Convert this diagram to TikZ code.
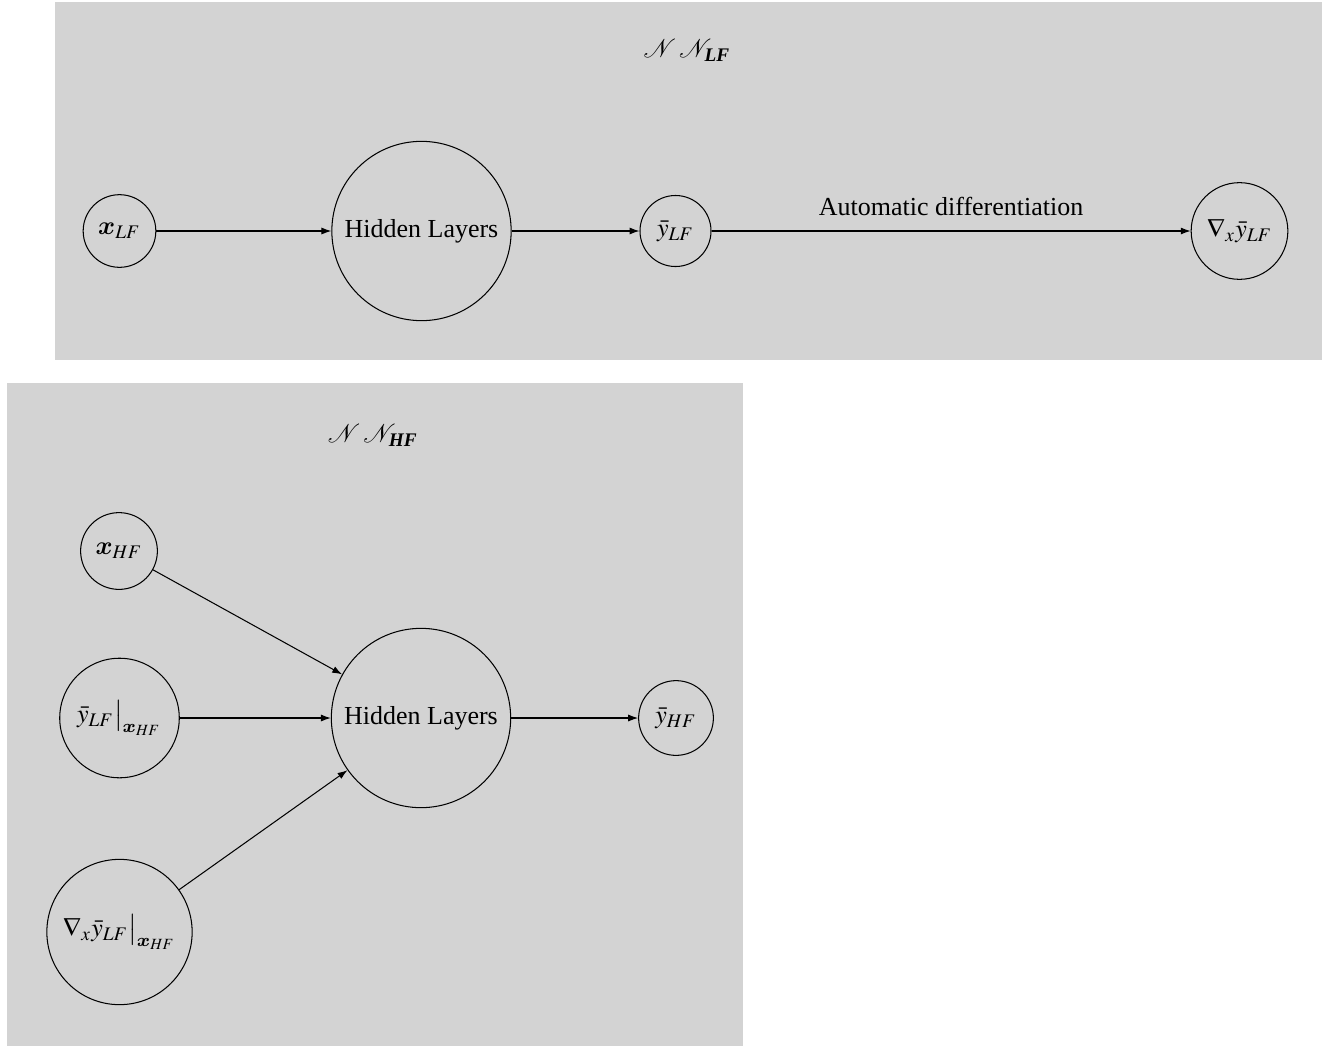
\documentclass[tikz,border=0pt]{standalone}
\usepackage{amsmath}
\usepackage{mathptmx}
\usepackage[no-math]{fontspec}
\setmainfont{Liberation Serif}
\usetikzlibrary{arrows.meta}
\DeclareMathAlphabet{\mathbx}{OML}{cmm}{b}{it}
\definecolor{panelgray}{RGB}{211,211,211}
\tikzset{%
  >={Latex[width=2.7pt,length=3.8pt]},
   panel/.style = {fill=panelgray, draw=none},
    unit/.style = {circle, draw=black, fill=panelgray, inner sep=0.4em},
   layer/.style = {unit, minimum size=68pt},
}
\newcommand{\nettitle}[1]{$\mathcal{N}\,\mathcal{N}_{\,\text{\bfseries\itshape #1}}$}

\begin{document}
\begin{tikzpicture}[x=0.385pt, y=-0.385pt]
  \useasboundingbox (0,0) rectangle (1328,1046);

  \fill[panel] (55,2)  rectangle (1322,360);
  \fill[panel] (7,383) rectangle (743,1046);

  % low fidelity net
  \node (lfTitle) at (687,50)    {\nettitle{LF}};
  \node (lfIn)    [unit]  at (119.5,231)  {$\mathbx{x}_{LF}$};
  \node (lfHid)   [layer] at (421.5,231)  {Hidden Layers};
  \node (lfOut)   [unit]  at (675.5,231)  {$\bar{y}_{LF}$};
  \node (lfGrad)  [unit]  at (1239.5,231) {$\nabla_x\bar{y}_{LF}$};

  \draw[->] (lfIn)  -- (lfHid);
  \draw[->] (lfHid) -- (lfOut);
  \draw[->] (lfOut) -- node[above=2.5pt] {Automatic differentiation} (lfGrad);

  % high fidelity net
  \node (hfTitle) at (373,435)   {\nettitle{HF}};
  \node (hfIn)    [unit]  at (119,551)   {$\mathbx{x}_{HF}$};
  \node (hfLow)   [unit]  at (119.5,718) {$\bar{y}_{LF}\big|_{\mathbx{x}_{HF}}$};
  \node (hfGrad)  [unit]  at (119.5,932) {$\nabla_x\bar{y}_{LF}\big|_{\mathbx{x}_{HF}}$};
  \node (hfHid)   [layer] at (421,718)   {Hidden Layers};
  \node (hfOut)   [unit]  at (676,718)   {$\bar{y}_{HF}$};

  \draw[->] (hfIn)   -- (hfHid);
  \draw[->] (hfLow)  -- (hfHid);
  \draw[->] (hfGrad) -- (hfHid);
  \draw[->] (hfHid)  -- (hfOut);
\end{tikzpicture}
\end{document}
